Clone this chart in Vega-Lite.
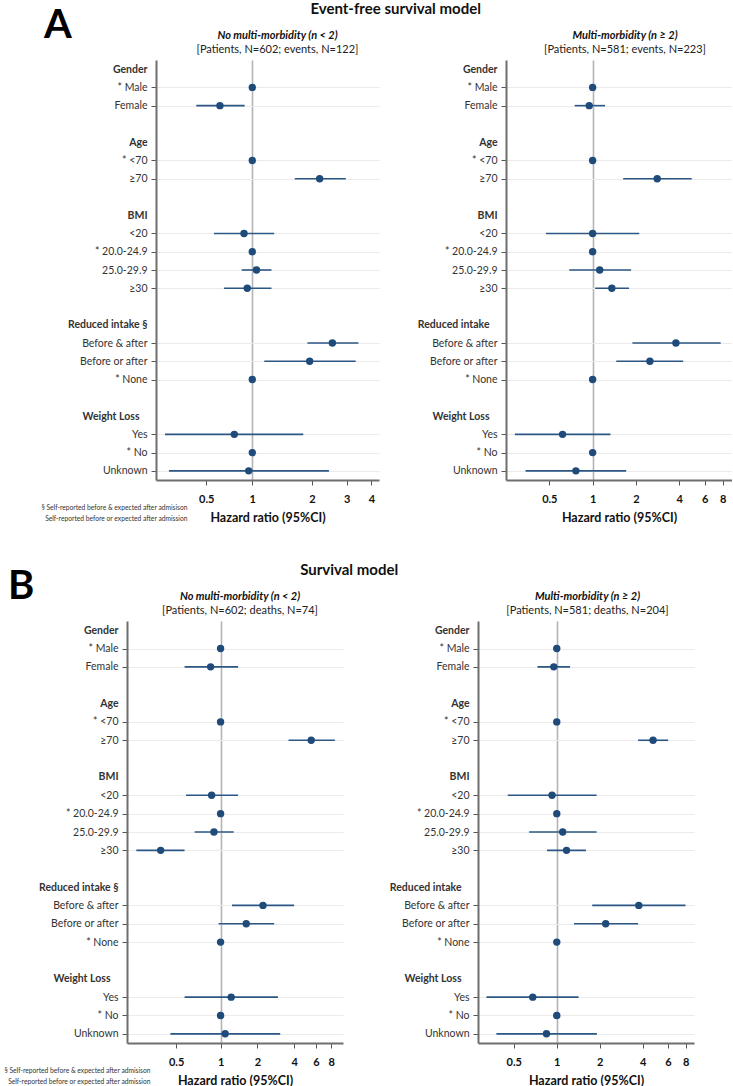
{
  "$schema": "https://vega.github.io/schema/vega-lite/v6.json",
  "padding": {"left": 3, "top": 2, "right": 0, "bottom": 0},
  "spacing": 39,
  "config": {
    "view": {"stroke": null},
    "font": "Lato",
    "title": {"font": "Lato", "subtitleFont": "Lato"},
    "axisX": {"domainColor": "#6e6e6e", "domainWidth": 2, "tickColor": "#555555", "tickSize": 5, "tickWidth": 1, "labelFont": "Lato", "labelFontSize": 11, "labelFontWeight": "bold", "labelColor": "#111111", "labelPadding": 8, "titleFont": "Lato", "titleFontSize": 12.5, "titleFontWeight": "bold", "titleColor": "#111111", "titlePadding": 7, "grid": true, "gridColor": "#b4b4b4", "gridWidth": 1.6, "labelOverlap": false, "labelFlush": false},
    "axisY": {"domainColor": "#6e6e6e", "domainWidth": 2, "tickColor": "#555555", "tickSize": 5, "tickWidth": 1, "labelFont": "Lato", "labelFontSize": 10.5, "labelColor": "#333333", "labelPadding": 4, "grid": true, "gridColor": "#ebebeb", "gridWidth": 1}
  },
  "datasets": {
    "aL": [
      {"row": "* Male", "hr": 1},
      {"row": "Female", "hr": 0.686, "lo": 0.521, "hi": 0.915},
      {"row": "* <70", "hr": 1},
      {"row": "≥70", "hr": 2.19, "lo": 1.64, "hi": 2.97},
      {"row": "<20", "hr": 0.908, "lo": 0.64, "hi": 1.29},
      {"row": "* 20.0-24.9", "hr": 1},
      {"row": "25.0-29.9", "hr": 1.05, "lo": 0.884, "hi": 1.25},
      {"row": "≥30", "hr": 0.943, "lo": 0.719, "hi": 1.25},
      {"row": "Before & after", "hr": 2.54, "lo": 1.9, "hi": 3.44},
      {"row": "Before or after", "hr": 1.95, "lo": 1.15, "hi": 3.33},
      {"row": "* None", "hr": 1},
      {"row": "Yes", "hr": 0.811, "lo": 0.362, "hi": 1.81},
      {"row": "* No", "hr": 1},
      {"row": "Unknown", "hr": 0.959, "lo": 0.379, "hi": 2.44}
    ],
    "aR": [
      {"row": "* Male", "hr": 1},
      {"row": "Female", "hr": 0.947, "lo": 0.75, "hi": 1.22},
      {"row": "* <70", "hr": 1},
      {"row": "≥70", "hr": 2.81, "lo": 1.63, "hi": 4.88},
      {"row": "<20", "hr": 1.0, "lo": 0.474, "hi": 2.11},
      {"row": "* 20.0-24.9", "hr": 1},
      {"row": "25.0-29.9", "hr": 1.12, "lo": 0.688, "hi": 1.85},
      {"row": "≥30", "hr": 1.36, "lo": 1.04, "hi": 1.79},
      {"row": "Before & after", "hr": 3.79, "lo": 1.89, "hi": 7.76},
      {"row": "Before or after", "hr": 2.5, "lo": 1.46, "hi": 4.26},
      {"row": "* None", "hr": 1},
      {"row": "Yes", "hr": 0.618, "lo": 0.288, "hi": 1.33},
      {"row": "* No", "hr": 1},
      {"row": "Unknown", "hr": 0.765, "lo": 0.342, "hi": 1.71}
    ],
    "bL": [
      {"row": "* Male", "hr": 1},
      {"row": "Female", "hr": 0.829, "lo": 0.508, "hi": 1.39},
      {"row": "* <70", "hr": 1},
      {"row": "≥70", "hr": 5.5, "lo": 3.59, "hi": 8.57},
      {"row": "<20", "hr": 0.845, "lo": 0.522, "hi": 1.39},
      {"row": "* 20.0-24.9", "hr": 1},
      {"row": "25.0-29.9", "hr": 0.883, "lo": 0.614, "hi": 1.28},
      {"row": "≥30", "hr": 0.324, "lo": 0.205, "hi": 0.508},
      {"row": "Before & after", "hr": 2.22, "lo": 1.24, "hi": 3.99},
      {"row": "Before or after", "hr": 1.62, "lo": 0.963, "hi": 2.74},
      {"row": "* None", "hr": 1},
      {"row": "Yes", "hr": 1.22, "lo": 0.508, "hi": 2.94},
      {"row": "* No", "hr": 1},
      {"row": "Unknown", "hr": 1.09, "lo": 0.389, "hi": 3.07}
    ],
    "bR": [
      {"row": "* Male", "hr": 1},
      {"row": "Female", "hr": 0.953, "lo": 0.733, "hi": 1.24},
      {"row": "* <70", "hr": 1},
      {"row": "≥70", "hr": 4.72, "lo": 3.71, "hi": 6.02},
      {"row": "<20", "hr": 0.927, "lo": 0.454, "hi": 1.9},
      {"row": "* 20.0-24.9", "hr": 1},
      {"row": "25.0-29.9", "hr": 1.1, "lo": 0.641, "hi": 1.9},
      {"row": "≥30", "hr": 1.17, "lo": 0.855, "hi": 1.6},
      {"row": "Before & after", "hr": 3.75, "lo": 1.77, "hi": 7.96},
      {"row": "Before or after", "hr": 2.2, "lo": 1.32, "hi": 3.71},
      {"row": "* None", "hr": 1},
      {"row": "Yes", "hr": 0.679, "lo": 0.322, "hi": 1.42},
      {"row": "* No", "hr": 1},
      {"row": "Unknown", "hr": 0.847, "lo": 0.378, "hi": 1.91}
    ]
  },
  "vconcat": [
    {
      "title": {"text": "A", "anchor": "start", "frame": "bounds", "align": "left", "dx": 41, "offset": -76, "fontSize": 40, "fontWeight": "bold", "color": "#000000", "baseline": "alphabetic"},
      "spacing": 0,
      "hconcat": [
        {"width": 38, "height": 1, "data": {"values": []}, "mark": {"type": "point", "opacity": 0}, "encoding": {}},
        {
          "title": {"text": "Event-free survival model", "anchor": "middle", "frame": "bounds", "dx": 9, "fontSize": 15, "fontWeight": "bold", "color": "#111111", "offset": 12.5},
          "spacing": 38,
          "hconcat": [
            {
              "title": {"text": ["§ Self-reported before & expected after admisison", "Self-reported before or expected after admission"], "orient": "bottom", "anchor": "start", "frame": "bounds", "align": "right", "dx": 120, "offset": -19, "fontSize": 6.7, "fontWeight": "normal", "color": "#333333", "lineHeight": 11, "baseline": "top"},
              "vconcat": [
                {
                  "width": 223, "height": 420,
                  "title": {"text": "No multi-morbidity (n < 2)", "subtitle": "[Patients, N=602; events, N=122]", "anchor": "middle", "frame": "group", "dx": 10, "fontSize": 11, "fontStyle": "italic", "fontWeight": "bold", "color": "#111111", "subtitleFontSize": 11, "subtitleColor": "#222222", "subtitlePadding": 3, "offset": 5.5},
                  "data": {"name": "aL"},
                  "encoding": {
                    "y": {"field": "row", "type": "nominal", "sort": null,
                      "scale": {"type": "point", "padding": 0.5, "domain": ["Gender", "* Male", "Female", "_b1", "Age", "* <70", "≥70", "_b2", "BMI", "<20", "* 20.0-24.9", "25.0-29.9", "≥30", "_b3", "Reduced intake §", "Before & after", "Before or after", "* None", "_b4", "Weight Loss", "Yes", "* No", "Unknown"]},
                      "axis": {"title": null, "labelExpr": "indexof(datum.value,'_b')==0 ? '' : datum.value",
                        "labelFontWeight": {"condition": {"test": "datum.value=='Gender' || datum.value=='Age' || datum.value=='BMI' || indexof(datum.value,'Reduced intake')==0 || datum.value=='Weight Loss'", "value": "bold"}, "value": "normal"},
                        "labelPadding": {"condition": {"test": "datum.value=='Weight Loss' || datum.value=='Reduced intake'", "value": 12}, "value": 4},
                        "tickOpacity": {"condition": {"test": "!(datum.value=='Gender' || datum.value=='Age' || datum.value=='BMI' || indexof(datum.value,'Reduced intake')==0 || datum.value=='Weight Loss') && indexof(datum.value,'_b')!=0", "value": 1}, "value": 0},
                        "gridOpacity": {"condition": {"test": "!(datum.value=='Gender' || datum.value=='Age' || datum.value=='BMI' || indexof(datum.value,'Reduced intake')==0 || datum.value=='Weight Loss') && indexof(datum.value,'_b')!=0", "value": 1}, "value": 0}}}
                  },
                  "layer": [
                    {"transform": [{"filter": "isValid(datum.lo)"}], "mark": {"type": "rule", "color": "#2c5785", "strokeWidth": 1.6},
                      "encoding": {"x": {"field": "lo", "type": "quantitative", "scale": {"type": "log", "domain": [0.326, 4.37], "nice": false}}, "x2": {"field": "hi"}}},
                    {"mark": {"type": "point", "filled": true, "size": 55, "opacity": 1, "color": "#1f4b7a"},
                      "encoding": {"x": {"field": "hr", "type": "quantitative", "scale": {"type": "log", "domain": [0.326, 4.37], "nice": false},
                        "axis": {"title": "Hazard ratio (95%CI)", "values": [0.5853, 1, 2, 3, 4], "labelExpr": "datum.value < 0.9 ? '0.5' : format(datum.value,'~g')", "gridOpacity": {"condition": {"test": "datum.value==1", "value": 1}, "value": 0}}}}}
                  ]
                }
              ]
            },
            {
              "width": 226, "height": 420,
              "title": {"text": "Multi-morbidity (n ≥ 2)", "subtitle": "[Patients, N=581; events, N=223]", "anchor": "middle", "frame": "group", "dx": 6, "fontSize": 11, "fontStyle": "italic", "fontWeight": "bold", "color": "#111111", "subtitleFontSize": 11, "subtitleColor": "#222222", "subtitlePadding": 3, "offset": 5.5},
              "data": {"name": "aR"},
              "encoding": {
                "y": {"field": "row", "type": "nominal", "sort": null,
                  "scale": {"type": "point", "padding": 0.5, "domain": ["Gender", "* Male", "Female", "_b1", "Age", "* <70", "≥70", "_b2", "BMI", "<20", "* 20.0-24.9", "25.0-29.9", "≥30", "_b3", "Reduced intake", "Before & after", "Before or after", "* None", "_b4", "Weight Loss", "Yes", "* No", "Unknown"]},
                  "axis": {"title": null, "labelExpr": "indexof(datum.value,'_b')==0 ? '' : datum.value",
                    "labelFontWeight": {"condition": {"test": "datum.value=='Gender' || datum.value=='Age' || datum.value=='BMI' || indexof(datum.value,'Reduced intake')==0 || datum.value=='Weight Loss'", "value": "bold"}, "value": "normal"},
                    "labelPadding": {"condition": {"test": "datum.value=='Weight Loss' || datum.value=='Reduced intake'", "value": 12}, "value": 4},
                    "tickOpacity": {"condition": {"test": "!(datum.value=='Gender' || datum.value=='Age' || datum.value=='BMI' || indexof(datum.value,'Reduced intake')==0 || datum.value=='Weight Loss') && indexof(datum.value,'_b')!=0", "value": 1}, "value": 0},
                    "gridOpacity": {"condition": {"test": "!(datum.value=='Gender' || datum.value=='Age' || datum.value=='BMI' || indexof(datum.value,'Reduced intake')==0 || datum.value=='Weight Loss') && indexof(datum.value,'_b')!=0", "value": 1}, "value": 0}}}
              },
              "layer": [
                {"transform": [{"filter": "isValid(datum.lo)"}], "mark": {"type": "rule", "color": "#2c5785", "strokeWidth": 1.6},
                  "encoding": {"x": {"field": "lo", "type": "quantitative", "scale": {"type": "log", "domain": [0.25, 9.3], "nice": false}}, "x2": {"field": "hi"}}},
                {"mark": {"type": "point", "filled": true, "size": 55, "opacity": 1, "color": "#1f4b7a"},
                  "encoding": {"x": {"field": "hr", "type": "quantitative", "scale": {"type": "log", "domain": [0.25, 9.3], "nice": false},
                    "axis": {"title": "Hazard ratio (95%CI)", "values": [0.5, 1, 2, 4, 6, 8], "labelExpr": "format(datum.value,'~g')", "gridOpacity": {"condition": {"test": "datum.value==1", "value": 1}, "value": 0}}}}}
              ]
            }
          ]
        }
      ]
    },
    {
      "title": {"text": "B", "anchor": "start", "frame": "bounds", "align": "left", "dx": 5, "offset": -76, "fontSize": 40, "fontWeight": "bold", "color": "#000000", "baseline": "alphabetic"},
      "spacing": 0,
      "hconcat": [
        {"width": 1, "height": 1, "data": {"values": []}, "mark": {"type": "point", "opacity": 0}, "encoding": {}},
        {
          "title": {"text": "Survival model", "anchor": "middle", "frame": "bounds", "dx": 0, "fontSize": 15, "fontWeight": "bold", "color": "#111111", "offset": 12.5},
          "spacing": 46,
          "hconcat": [
            {
              "title": {"text": ["§ Self-reported before & expected after admisison", "Self-reported before or expected after admission"], "orient": "bottom", "anchor": "start", "frame": "bounds", "align": "right", "dx": 112, "offset": -19, "fontSize": 6.7, "fontWeight": "normal", "color": "#333333", "lineHeight": 11, "baseline": "top"},
              "vconcat": [
                {
                  "width": 216, "height": 422,
                  "title": {"text": "No multi-morbidity (n < 2)", "subtitle": "[Patients, N=602; deaths, N=74]", "anchor": "middle", "frame": "group", "dx": 5, "fontSize": 11, "fontStyle": "italic", "fontWeight": "bold", "color": "#111111", "subtitleFontSize": 11, "subtitleColor": "#222222", "subtitlePadding": 3, "offset": 5.5},
                  "data": {"name": "bL"},
                  "encoding": {
                    "y": {"field": "row", "type": "nominal", "sort": null,
                      "scale": {"type": "point", "padding": 0.5, "domain": ["Gender", "* Male", "Female", "_b1", "Age", "* <70", "≥70", "_b2", "BMI", "<20", "* 20.0-24.9", "25.0-29.9", "≥30", "_b3", "Reduced intake §", "Before & after", "Before or after", "* None", "_b4", "Weight Loss", "Yes", "* No", "Unknown"]},
                      "axis": {"title": null, "labelExpr": "indexof(datum.value,'_b')==0 ? '' : datum.value",
                        "labelFontWeight": {"condition": {"test": "datum.value=='Gender' || datum.value=='Age' || datum.value=='BMI' || indexof(datum.value,'Reduced intake')==0 || datum.value=='Weight Loss'", "value": "bold"}, "value": "normal"},
                        "labelPadding": {"condition": {"test": "datum.value=='Weight Loss' || datum.value=='Reduced intake'", "value": 12}, "value": 4},
                        "tickOpacity": {"condition": {"test": "!(datum.value=='Gender' || datum.value=='Age' || datum.value=='BMI' || indexof(datum.value,'Reduced intake')==0 || datum.value=='Weight Loss') && indexof(datum.value,'_b')!=0", "value": 1}, "value": 0},
                        "gridOpacity": {"condition": {"test": "!(datum.value=='Gender' || datum.value=='Age' || datum.value=='BMI' || indexof(datum.value,'Reduced intake')==0 || datum.value=='Weight Loss') && indexof(datum.value,'_b')!=0", "value": 1}, "value": 0}}}
                  },
                  "layer": [
                    {"transform": [{"filter": "isValid(datum.lo)"}], "mark": {"type": "rule", "color": "#2c5785", "strokeWidth": 1.6},
                      "encoding": {"x": {"field": "lo", "type": "quantitative", "scale": {"type": "log", "domain": [0.172, 10.0], "nice": false}}, "x2": {"field": "hi"}}},
                    {"mark": {"type": "point", "filled": true, "size": 55, "opacity": 1, "color": "#1f4b7a"},
                      "encoding": {"x": {"field": "hr", "type": "quantitative", "scale": {"type": "log", "domain": [0.172, 10.0], "nice": false},
                        "axis": {"title": "Hazard ratio (95%CI)", "values": [0.4329, 1, 2, 4, 6, 8], "labelExpr": "datum.value < 0.9 ? '0.5' : format(datum.value,'~g')", "gridOpacity": {"condition": {"test": "datum.value==1", "value": 1}, "value": 0}}}}}
                  ]
                }
              ]
            },
            {
              "width": 216, "height": 422,
              "title": {"text": "Multi-morbidity (n ≥ 2)", "subtitle": "[Patients, N=581; deaths, N=204]", "anchor": "middle", "frame": "group", "dx": 1.5, "fontSize": 11, "fontStyle": "italic", "fontWeight": "bold", "color": "#111111", "subtitleFontSize": 11, "subtitleColor": "#222222", "subtitlePadding": 3, "offset": 5.5},
              "data": {"name": "bR"},
              "encoding": {
                "y": {"field": "row", "type": "nominal", "sort": null,
                  "scale": {"type": "point", "padding": 0.5, "domain": ["Gender", "* Male", "Female", "_b1", "Age", "* <70", "≥70", "_b2", "BMI", "<20", "* 20.0-24.9", "25.0-29.9", "≥30", "_b3", "Reduced intake", "Before & after", "Before or after", "* None", "_b4", "Weight Loss", "Yes", "* No", "Unknown"]},
                  "axis": {"title": null, "labelExpr": "indexof(datum.value,'_b')==0 ? '' : datum.value",
                    "labelFontWeight": {"condition": {"test": "datum.value=='Gender' || datum.value=='Age' || datum.value=='BMI' || indexof(datum.value,'Reduced intake')==0 || datum.value=='Weight Loss'", "value": "bold"}, "value": "normal"},
                    "labelPadding": {"condition": {"test": "datum.value=='Weight Loss' || datum.value=='Reduced intake'", "value": 12}, "value": 4},
                    "tickOpacity": {"condition": {"test": "!(datum.value=='Gender' || datum.value=='Age' || datum.value=='BMI' || indexof(datum.value,'Reduced intake')==0 || datum.value=='Weight Loss') && indexof(datum.value,'_b')!=0", "value": 1}, "value": 0},
                    "gridOpacity": {"condition": {"test": "!(datum.value=='Gender' || datum.value=='Age' || datum.value=='BMI' || indexof(datum.value,'Reduced intake')==0 || datum.value=='Weight Loss') && indexof(datum.value,'_b')!=0", "value": 1}, "value": 0}}}
              },
              "layer": [
                {"transform": [{"filter": "isValid(datum.lo)"}], "mark": {"type": "rule", "color": "#2c5785", "strokeWidth": 1.6},
                  "encoding": {"x": {"field": "lo", "type": "quantitative", "scale": {"type": "log", "domain": [0.281, 9.13], "nice": false}}, "x2": {"field": "hi"}}},
                {"mark": {"type": "point", "filled": true, "size": 55, "opacity": 1, "color": "#1f4b7a"},
                  "encoding": {"x": {"field": "hr", "type": "quantitative", "scale": {"type": "log", "domain": [0.281, 9.13], "nice": false},
                    "axis": {"title": "Hazard ratio (95%CI)", "values": [0.5, 1, 2, 4, 6, 8], "labelExpr": "format(datum.value,'~g')", "gridOpacity": {"condition": {"test": "datum.value==1", "value": 1}, "value": 0}}}}}
              ]
            }
          ]
        }
      ]
    }
  ]
}
